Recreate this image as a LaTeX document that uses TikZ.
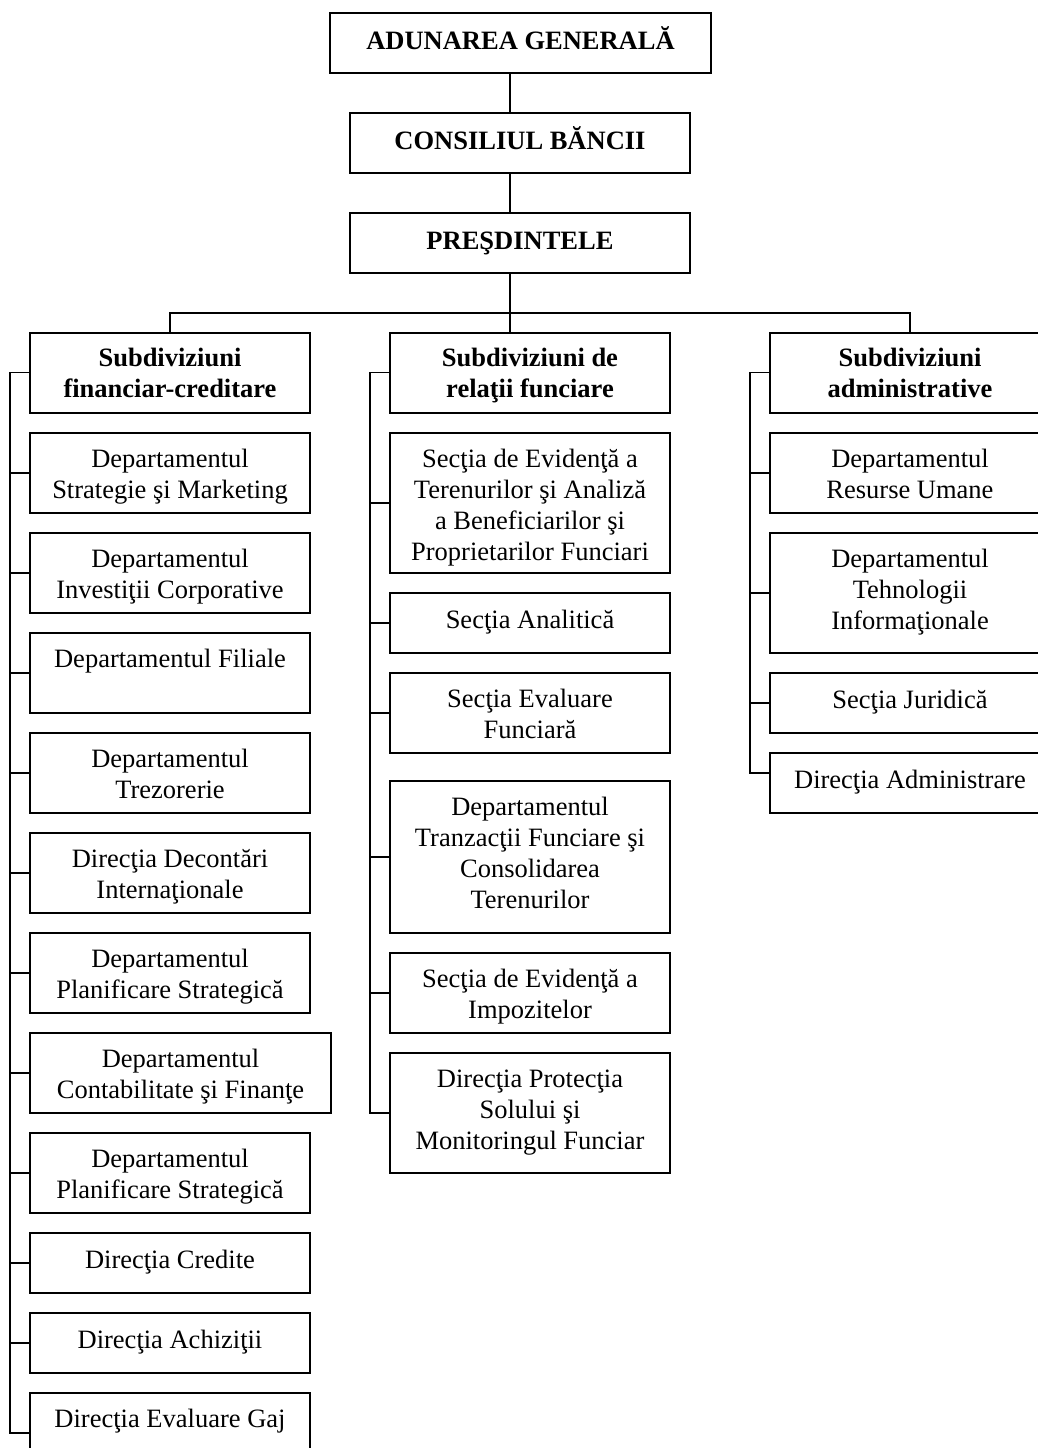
\documentclass[tikz,border=0pt]{standalone}
\usepackage{fontspec}
\setmainfont{Liberation Serif}
\newcommand{\bt}[3][280pt]{\parbox[c][#2][t]{#1}{\centering\rule{0pt}{34pt}#3}}
\newcommand{\btop}[2]{\parbox[c][60pt][t]{#1}{\centering\rule{0pt}{36.5pt}#2}}
\begin{document}
\begin{tikzpicture}[x=1pt,y=-1pt,
  box/.style={draw, line width=2pt, inner sep=0pt, font=\fontsize{26.5}{31}\selectfont},
  head/.style={box, font=\fontsize{26.5}{31}\selectfont\bfseries},
  link/.style={line width=1.9pt}]
\useasboundingbox (0,0) rectangle (1038,1448);
\clip (0,0) rectangle (1038,1448);
% top chain
\node[head] (ag) at (520.5,43) {\btop{381pt}{ADUNAREA GENERALĂ}};
\node[head] (cb) at (520,143) {\btop{340pt}{CONSILIUL BĂNCII}};
\node[head] (pr) at (520,243) {\btop{340pt}{PREŞDINTELE}};
\coordinate (trunk) at (510,313);
% heads of columns
\node[head] (sA) at (170,372.5) {\bt{80pt}{Subdiviziuni\\financiar-creditare}};
\node[head] (sB) at (530,372.5) {\bt{80pt}{Subdiviziuni de\\relaţii funciare}};
\node[head] (sC) at (910,372.5) {\bt{80pt}{Subdiviziuni\\administrative}};
% left column
\node[box] (a1) at (170,473) {\bt{80pt}{Departamentul\\Strategie şi Marketing}};
\node[box] (a2) at (170,573) {\bt{80pt}{Departamentul\\Investiţii Corporative}};
\node[box] (a3) at (170,673) {\bt{80pt}{Departamentul Filiale}};
\node[box] (a4) at (170,773) {\bt{80pt}{Departamentul\\Trezorerie}};
\node[box] (a5) at (170,873) {\bt{80pt}{Direcţia Decontări\\Internaţionale}};
\node[box] (a6) at (170,973) {\bt{80pt}{Departamentul\\Planificare Strategică}};
\node[box] (a7) at (180.5,1073) {\bt[301pt]{80pt}{Departamentul\\Contabilitate şi Finanţe}};
\node[box] (a8) at (170,1173) {\bt{80pt}{Departamentul\\Planificare Strategică}};
\node[box] (a9) at (170,1263) {\bt{60pt}{\rule{0pt}{35pt}Direcţia Credite}};
\node[box] (a10) at (170,1343) {\bt{60pt}{\rule{0pt}{35pt}Direcţia Achiziţii}};
\node[box] (a11) at (170,1433) {\bt{80pt}{Direcţia Evaluare Gaj}};
% middle column
\node[box] (m1) at (530,503) {\bt{140pt}{Secţia de Evidenţă a\\Terenurilor şi Analiză\\a Beneficiarilor şi\\Proprietarilor Funciari}};
\node[box] (m2) at (530,623) {\bt{60pt}{\rule{0pt}{35pt}Secţia Analitică}};
\node[box] (m3) at (530,713) {\bt{80pt}{Secţia Evaluare\\Funciară}};
\node[box] (m4) at (530,857) {\bt{152pt}{Departamentul\\Tranzacţii Funciare şi\\Consolidarea\\Terenurilor}};
\node[box] (m5) at (530,993) {\bt{80pt}{Secţia de Evidenţă a\\Impozitelor}};
\node[box] (m6) at (530,1113) {\bt{120pt}{Direcţia Protecţia\\Solului şi\\Monitoringul Funciar}};
% right column
\node[box] (r1) at (910,473) {\bt{80pt}{Departamentul\\Resurse Umane}};
\node[box] (r2) at (910,593) {\bt{120pt}{Departamentul\\Tehnologii\\Informaţionale}};
\node[box] (r3) at (910,703) {\bt{60pt}{\rule{0pt}{35pt}Secţia Juridică}};
\node[box] (r4) at (910,783) {\bt{60pt}{\rule{0pt}{35pt}Direcţia Administrare}};
% trunk
\draw[link] (ag.south -| trunk) -- (cb.north -| trunk);
\draw[link] (cb.south -| trunk) -- (pr.north -| trunk);
\draw[link] (pr.south -| trunk) -- (trunk);
\draw[link] (sA.north) |- (trunk) -| (sC.north);
\draw[link] (trunk) -- (sB.north -| trunk);
% buses
\coordinate (busA) at (10,0);
\coordinate (busB) at (370,0);
\coordinate (busC) at (750,0);
\coordinate (rEnd) at (750,773);
\draw[link] (sA.west) -- (sA.west -| busA) -- (a11.west -| busA) -- (a11.west);
\foreach \n in {a1,a2,a3,a4,a5,a6,a7,a8,a9,a10}
  \draw[link] (\n.west -| busA) -- (\n.west);
\draw[link] (sB.west) -- (sB.west -| busB) -- (m6.west -| busB) -- (m6.west);
\foreach \n in {m1,m2,m3,m4,m5}
  \draw[link] (\n.west -| busB) -- (\n.west);
\draw[link] (sC.west) -- (sC.west -| busC) -- (rEnd) -- (rEnd -| r4.west);
\foreach \n in {r1,r2,r3}
  \draw[link] (\n.west -| busC) -- (\n.west);
\end{tikzpicture}
\end{document}
